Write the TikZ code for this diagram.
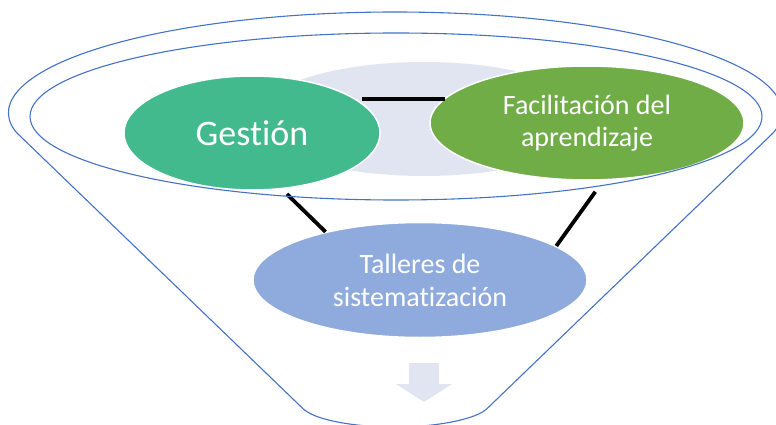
\documentclass[tikz,border=0pt]{standalone}
\usepackage{fontspec}
\setmainfont{Carlito}[Ligatures=NoCommon]
\usetikzlibrary{calc,positioning,shapes.geometric}

\definecolor{gestgreen}{RGB}{67,186,141}
\definecolor{facilgreen}{RGB}{112,173,71}
\definecolor{tallblue}{RGB}{143,170,220}
\definecolor{lavender}{RGB}{225,229,242}
\definecolor{funnelblue}{RGB}{68,114,196}

\begin{document}
\begin{tikzpicture}[x=1pt,y=1pt,
	blob/.style={ellipse, draw=white, line width=1.5pt, inner sep=0pt, text=white, align=center},
	link/.style={black, line width=3.8pt},
	funnel/.style={draw=funnelblue, line width=1.1pt, rounded corners=2pt}]

	\useasboundingbox (0,0) rectangle (776,-425);

	\fill[lavender] (424,-119) ellipse (170 and 57);

	\node[blob, fill=gestgreen, minimum width=256pt, minimum height=114pt,
		font=\fontsize{36}{42}\selectfont] (gest) at (252,-133) {Gestión};
	\node[blob, fill=facilgreen, minimum width=314pt, minimum height=114pt,
		font=\fontsize{28}{32}\selectfont] (facil) at (587,-123) {Facilitación del\\aprendizaje};
	\node[blob, fill=tallblue, minimum width=334pt, minimum height=115pt,
		font=\fontsize{28}{33}\selectfont] (tall) at (420,-280) {Talleres de\\sistematización};

	\draw[link, shorten <=6pt] (gest.18) -- (gest.18 -| facil.170);
	\draw[link, shorten <=7pt] (gest.-62) -- (tall.153);
	\draw[link, shorten <=14pt] (facil.-74) -- (tall.14);

	% arrow out of the funnel
	\fill[lavender] (409,-363) -- (439,-363) -- (439,-384) -- (452,-384) -- (424,-402)
		-- (396,-384) -- (409,-384) -- cycle;

	\draw[funnel] (395,-113) ++(-10.8:386 and 101)
		arc[start angle=-10.8, end angle=190.8, x radius=386, y radius=101]
		-- (302,-407.7)
		arc[start angle=196.5, end angle=343.5, x radius=97, y radius=27] -- cycle;
	\draw[funnel] (396,-116.5) ellipse (366 and 83.5);

\end{tikzpicture}
\end{document}
